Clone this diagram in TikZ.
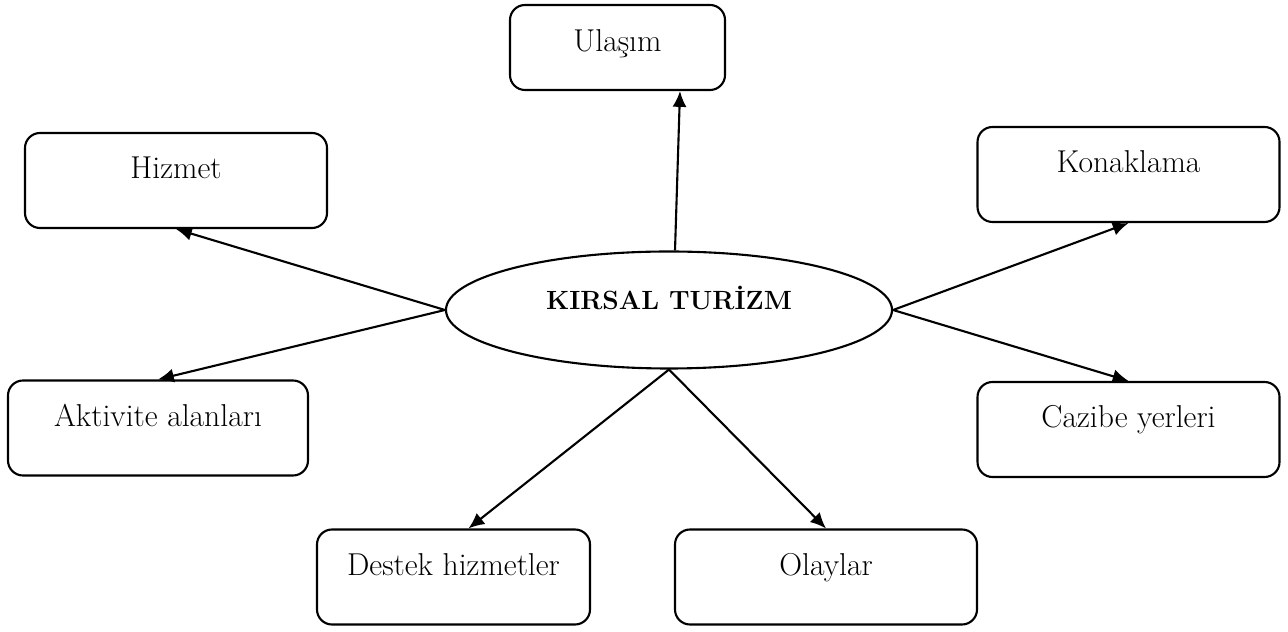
\documentclass[tikz,border=0pt]{standalone}
\usepackage{tikz}
\usetikzlibrary{shapes.geometric,arrows.meta}

\tikzset{
  kutu/.style={draw,rectangle,rounded corners=0.3cm,line width=1.2pt,
    inner ysep=0pt,text height=0.92cm,text depth=0.98cm,minimum width=6.04cm,
    font=\fontsize{18}{22}\selectfont},
  merkez/.style={draw,ellipse,line width=1.2pt,inner sep=0pt,
    minimum width=8.92cm,minimum height=2.34cm,text height=0.42cm,text depth=0.42cm,
    font=\fontsize{15}{18}\selectfont\bfseries}
}

\begin{document}
\begin{tikzpicture}[>={Latex[length=9pt,width=8pt]},line width=1.2pt]
      \useasboundingbox (0,0) rectangle (25.76,12.62);
      \node [merkez] (1) at (13.38,6.42) {KIRSAL TURİZM};
      \node [kutu,above of=1,xshift=-1.03cm,yshift=4.25cm,minimum width=4.3cm,
             text height=0.94cm,text depth=0.76cm] (2) {Ulaşım};
      \node [kutu,left of=1,xshift=-8.86cm,yshift=2.59cm] (3) {Hizmet};
      \node [kutu,right of=1,xshift=8.19cm,yshift=2.71cm] (4) {Konaklama};
      \node [kutu,left of=1,xshift=-9.22cm,yshift=-2.36cm,minimum width=6cm] (5) {Aktivite alanları};
      \node [kutu,right of=1,xshift=8.19cm,yshift=-2.39cm] (6) {Cazibe yerleri};
      \node [kutu,below of=1,xshift=-4.31cm,yshift=-4.34cm,minimum width=5.46cm] (7) {Destek hizmetler};
      \node [kutu,below of=1,xshift=3.14cm,yshift=-4.34cm] (8) {Olaylar};

      \draw[->] ([xshift=0.12cm]1.north) -- ([xshift=1.25cm]2.south);
      \draw[->] (1.west) -- (3.south);
      \draw[->] (1.east) -- (4.south);
      \draw[->] (1.west) -- (5.north);
      \draw[->] (1.east) -- (6.north);
      \draw[->] (1.south) -- ([xshift=0.3cm]7.north);
      \draw[->] (1.south) -- (8.north);
    \end{tikzpicture}
\end{document}
